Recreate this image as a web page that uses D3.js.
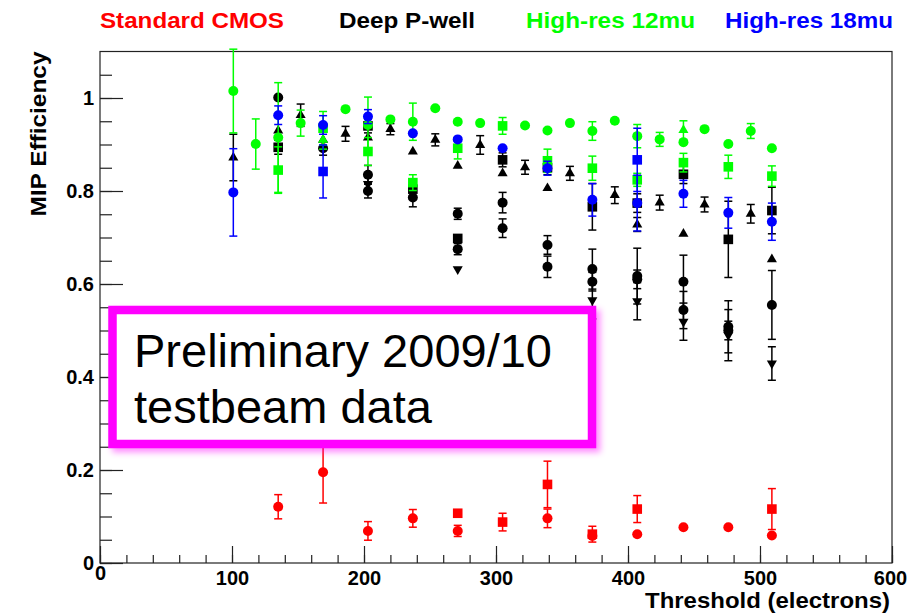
<!DOCTYPE html>
<html>
<head>
<meta charset="utf-8">
<script src="https://cdn.jsdelivr.net/npm/d3@7"></script>
<style>
  body { margin: 0; background: #fff; }
  text { font-family: Arial, "Liberation Sans", Helvetica, sans-serif; }
</style>
</head>
<body>
<div id="chart"></div>
<script>
// legend
var legendNames = ["Standard CMOS", "Deep P-well", "High-res 12mu", "High-res 18mu"];
var legendColors = ["#ff0000", "#000000", "#00ff00", "#0000ff"];

// axis ticks
var xTicks = [0, 100, 200, 300, 400, 500, 600];
var yTicks = [0, 0.2, 0.4, 0.6, 0.8, 1];

// Standard CMOS (red)
var cmosCircT = [135, 169, 203, 237, 271, 339, 373, 407, 442, 476, 509];
var cmosCircV = [0.121, 0.195, 0.069, 0.096, 0.069, 0.096, 0.058, 0.062, 0.077, 0.077, 0.059];
var cmosCircE = [0.026, 0.066, 0.02, 0.019, 0.012, 0.02, 0.01, 0.006, 0.004, 0.004, 0.004];
var cmosSqT = [271, 305, 339, 373, 407, 509];
var cmosSqV = [0.107, 0.088, 0.169, 0.062, 0.116, 0.116];
var cmosSqE = [0.005, 0.019, 0.05, 0.017, 0.029, 0.044];

// Deep P-well (black)
var dpwCircAT = [135, 169, 203, 237, 271, 305, 339, 373, 407, 442, 476, 509];
var dpwCircAV = [1.001, 0.892, 0.835, 0.786, 0.751, 0.775, 0.684, 0.632, 0.617, 0.605, 0.508, 0.555];
var dpwCircAE = [0.01, 0.015, 0.02, 0.02, 0.012, 0.022, 0.02, 0.043, 0.06, 0.057, 0.056, 0.074];
var dpwCircBT = [203, 271, 305, 339, 373, 407, 442, 476];
var dpwCircBV = [0.80, 0.675, 0.72, 0.637, 0.605, 0.61, 0.544, 0.50];
var dpwCircBE = [0.015, 0.012, 0.02, 0.023, 0.02, 0.02, 0.04, 0.02];
var dpwSqT = [135, 203, 237, 271, 305, 339, 373, 407, 442, 476, 509];
var dpwSqV = [0.894, 0.94, 0.804, 0.698, 0.867, 0.85, 0.766, 0.774, 0.836, 0.696, 0.758];
var dpwSqE = [0.015, 0.015, 0.015, 0.01, 0.015, 0.015, 0.05, 0.02, 0.02, 0.082, 0.05];
var dpwTriAT = [101, 152, 186, 220, 254, 288, 322, 356, 390, 424, 458, 493];
var dpwTriAV = [0.872, 0.963, 0.923, 0.933, 0.91, 0.899, 0.851, 0.838, 0.791, 0.775, 0.771, 0.751];
var dpwTriAE = [0.05, 0.024, 0.016, 0.012, 0.013, 0.02, 0.015, 0.015, 0.018, 0.016, 0.016, 0.02];
var dpwTriBT = [135, 169, 203, 237, 271, 305, 339, 407, 442, 509];
var dpwTriBV = [0.93, 0.91, 0.915, 0.885, 0.854, 0.838, 0.806, 0.728, 0.708, 0.653];
var dpwTriBE = [0.01, 0.01, 0.01, 0.01, 0.01, 0.01, 0.01, 0.015, 0.01, 0.01];
var dpwDownT = [203, 271, 373, 407, 442, 476, 509];
var dpwDownV = [0.815, 0.632, 0.565, 0.563, 0.519, 0.49, 0.429];
var dpwDownE = [0.015, 0.01, 0.04, 0.04, 0.04, 0.055, 0.036];

// High-res 12mu (green)
var hr12CircT = [101, 118, 135, 152, 186, 203, 220, 237, 254, 271, 288, 322, 339, 356, 373, 390, 407, 424, 442, 458, 476, 493, 509];
var hr12CircV = [1.015, 0.901, 0.915, 0.946, 0.976, 0.942, 0.954, 0.949, 0.978, 0.949, 0.946, 0.941, 0.93, 0.946, 0.929, 0.951, 0.918, 0.911, 0.905, 0.933, 0.901, 0.929, 0.892];
var hr12CircE = [0.09, 0.054, 0.118, 0.028, 0.004, 0.06, 0.004, 0.04, 0.004, 0.01, 0.004, 0.004, 0.01, 0.004, 0.02, 0.004, 0.025, 0.015, 0.01, 0.004, 0.01, 0.016, 0.006];
var hr12SqT = [135, 169, 203, 237, 271, 305, 339, 373, 407, 442, 476, 509];
var hr12SqV = [0.845, 0.935, 0.885, 0.818, 0.892, 0.94, 0.865, 0.849, 0.824, 0.861, 0.852, 0.832];
var hr12SqE = [0.05, 0.036, 0.03, 0.017, 0.023, 0.018, 0.025, 0.026, 0.014, 0.02, 0.025, 0.022];
var hr12TriT = [169, 442];
var hr12TriV = [0.91, 0.931];
var hr12TriE = [0.02, 0.02];

// High-res 18mu (blue)
var hr18CircT = [101, 135, 169, 203, 237, 271, 305, 339, 373, 407, 442, 476, 509];
var hr18CircV = [0.797, 0.963, 0.942, 0.96, 0.924, 0.911, 0.892, 0.849, 0.781, 0.774, 0.794, 0.753, 0.734];
var hr18CircE = [0.094, 0.02, 0.02, 0.015, 0.01, 0.01, 0.01, 0.015, 0.035, 0.06, 0.029, 0.033, 0.04];
var hr18SqT = [169, 407];
var hr18SqV = [0.842, 0.867];
var hr18SqE = [0.057, 0.068];

function zipSeries(t, v, e, color, shape) {
    return t.map(function(d, i) { return {t: d, v: v[i], e: e[i], color: color, shape: shape}; });
}

var series = [
    zipSeries(dpwTriAT, dpwTriAV, dpwTriAE, "#000", "up"),
    zipSeries(dpwTriBT, dpwTriBV, dpwTriBE, "#000", "up"),
    zipSeries(dpwDownT, dpwDownV, dpwDownE, "#000", "down"),
    zipSeries(dpwSqT, dpwSqV, dpwSqE, "#000", "square"),
    zipSeries(dpwCircAT, dpwCircAV, dpwCircAE, "#000", "circle"),
    zipSeries(dpwCircBT, dpwCircBV, dpwCircBE, "#000", "circle"),
    zipSeries(hr12SqT, hr12SqV, hr12SqE, "#00ff00", "square"),
    zipSeries(hr12TriT, hr12TriV, hr12TriE, "#00ff00", "up"),
    zipSeries(hr12CircT, hr12CircV, hr12CircE, "#00ff00", "circle"),
    zipSeries(hr18SqT, hr18SqV, hr18SqE, "#0000ff", "square"),
    zipSeries(hr18CircT, hr18CircV, hr18CircE, "#0000ff", "circle"),
    zipSeries(cmosSqT, cmosSqV, cmosSqE, "#ff0000", "square"),
    zipSeries(cmosCircT, cmosCircV, cmosCircE, "#ff0000", "circle")
];

var width = 912, height = 614;
var plot = {left: 100, right: 892, top: 51.5, bottom: 563};

var x = d3.scaleLinear().domain([0, 600]).range([plot.left, plot.right]);
var y = d3.scaleLinear().domain([0, 1.1]).range([plot.bottom, plot.top]);

var svg = d3.select("#chart").append("svg")
    .attr("width", width)
    .attr("height", height);

var defs = svg.append("defs");
var shadow = defs.append("filter").attr("id", "glow")
    .attr("x", "-10%").attr("y", "-10%").attr("width", "130%").attr("height", "140%");
shadow.append("feDropShadow")
    .attr("dx", 4).attr("dy", 4).attr("stdDeviation", 3)
    .attr("flood-color", "#ff00ff").attr("flood-opacity", 0.45);

// frame
svg.append("rect")
    .attr("x", plot.left).attr("y", plot.top)
    .attr("width", plot.right - plot.left).attr("height", plot.bottom - plot.top)
    .attr("fill", "none").attr("stroke", "#222").attr("stroke-width", 1.2);

// axes
var xMinor = svg.append("g").attr("transform", "translate(0," + plot.bottom + ")")
    .call(d3.axisBottom(x).tickValues(d3.range(0, 601, 20)).tickSize(-8).tickFormat(""));
var xMajor = svg.append("g").attr("transform", "translate(0," + plot.bottom + ")")
    .call(d3.axisBottom(x).tickValues(xTicks).tickSize(-17).tickPadding(8).tickFormat(d3.format("d")));
var yMinor = svg.append("g").attr("transform", "translate(" + plot.left + ",0)")
    .call(d3.axisLeft(y).tickValues(d3.range(0, 22).map(function(i){ return i * 0.05; })).tickSize(-12).tickFormat(""));
var yMajor = svg.append("g").attr("transform", "translate(" + plot.left + ",0)")
    .call(d3.axisLeft(y).tickValues(yTicks).tickSize(-23).tickPadding(6).tickFormat(d3.format("~g")));

[xMinor, xMajor, yMinor, yMajor].forEach(function(g) {
    g.select(".domain").remove();
    g.selectAll(".tick line").attr("stroke", "#222").attr("stroke-width", 1.2);
    g.selectAll(".tick text")
        .attr("fill", "#000")
        .style("font-size", "20px")
        .style("font-weight", "bold");
});
xMajor.selectAll(".tick text").filter(function(d){ return d === 0; }).attr("dy", "0.45em");
xMajor.selectAll(".tick text").filter(function(d){ return d === 600; }).attr("dx", "-2");

// axis titles
svg.append("text")
    .attr("transform", "translate(46," + plot.top + ") rotate(-90)")
    .attr("text-anchor", "end")
    .attr("textLength", 165).attr("lengthAdjust", "spacingAndGlyphs")
    .style("font-size", "22px").style("font-weight", "bold")
    .text("MIP Efficiency");
svg.append("text")
    .attr("x", 890).attr("y", 608)
    .attr("text-anchor", "end")
    .attr("textLength", 245).attr("lengthAdjust", "spacingAndGlyphs")
    .style("font-size", "22px").style("font-weight", "bold")
    .text("Threshold (electrons)");

// legend
var legendX = [100, 339, 526, 725];
var legendW = [184, 136, 169, 168];
svg.selectAll(".legend").data(legendNames).enter().append("text")
    .attr("class", "legend")
    .attr("x", function(d, i){ return legendX[i]; })
    .attr("y", 28)
    .attr("textLength", function(d, i){ return legendW[i]; })
    .attr("lengthAdjust", "spacingAndGlyphs")
    .attr("fill", function(d, i){ return legendColors[i]; })
    .style("font-size", "22px").style("font-weight", "bold")
    .text(function(d){ return d; });

// data points
var pts = svg.append("g");
var capHalf = 4;
series.forEach(function(s) {
    var g = pts.append("g");
    s.forEach(function(d) {
        var cx = x(d.t), cy = y(d.v);
        var ePx = y(0) - y(d.e);
        if (ePx > 5) {
            g.append("line")
                .attr("x1", cx).attr("x2", cx)
                .attr("y1", y(d.v + d.e)).attr("y2", y(d.v - d.e))
                .attr("stroke", d.color).attr("stroke-width", 1.5);
            [d.v + d.e, d.v - d.e].forEach(function(ev) {
                g.append("line")
                    .attr("x1", cx - capHalf).attr("x2", cx + capHalf)
                    .attr("y1", y(ev)).attr("y2", y(ev))
                    .attr("stroke", d.color).attr("stroke-width", 1.5);
            });
        }
        if (d.shape === "circle") {
            g.append("circle").attr("cx", cx).attr("cy", cy).attr("r", 5).attr("fill", d.color);
        } else if (d.shape === "square") {
            g.append("rect").attr("x", cx - 4.8).attr("y", cy - 4.8)
                .attr("width", 9.6).attr("height", 9.6).attr("fill", d.color);
        } else {
            g.append("path")
                .attr("d", d3.symbol().type(d3.symbolTriangle).size(44))
                .attr("transform", "translate(" + cx + "," + cy + ")" + (d.shape === "down" ? " rotate(180)" : ""))
                .attr("fill", d.color);
        }
    });
});

// preliminary box
svg.append("rect")
    .attr("x", 112.5).attr("y", 310)
    .attr("width", 479.5).attr("height", 134)
    .attr("fill", "#fff")
    .attr("stroke", "#ff00ff").attr("stroke-width", 8.5)
    .attr("filter", "url(#glow)");
svg.append("text")
    .attr("x", 134).attr("y", 367)
    .style("font-size", "47px")
    .text("Preliminary 2009/10");
svg.append("text")
    .attr("x", 134).attr("y", 423)
    .style("font-size", "47px")
    .text("testbeam data");
</script>
</body>
</html>
